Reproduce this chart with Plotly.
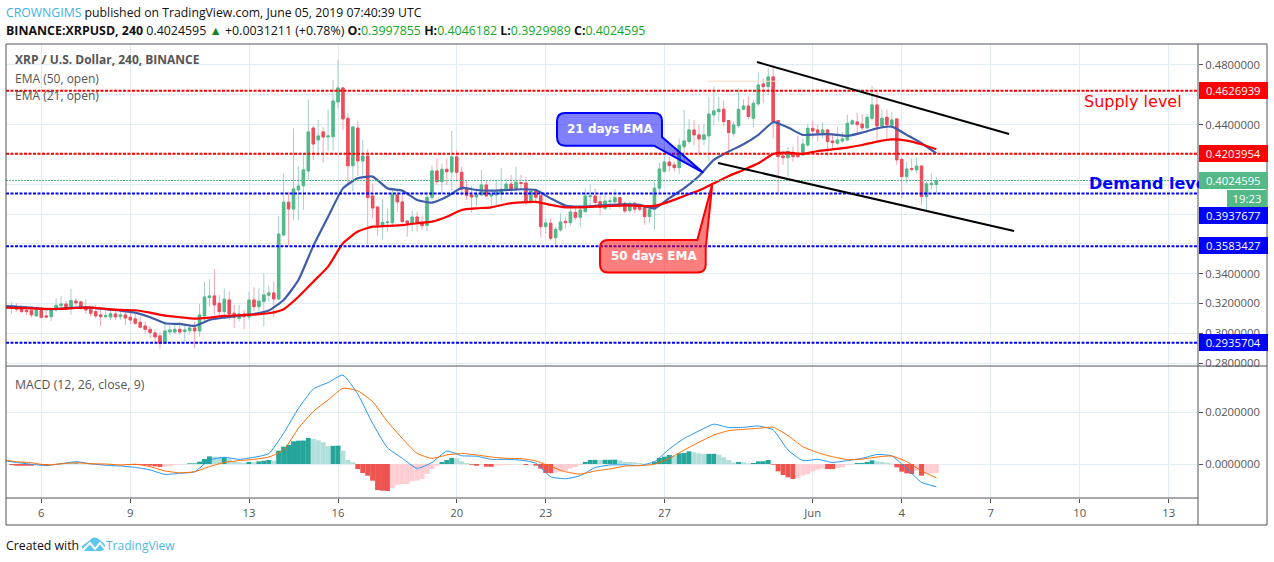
import pandas as pd
import plotly.graph_objects as go

# ---------- data ----------
opens = [.3167,.3178,.3172,.3152,.3152,.3116,.3152,.3116,.3111,.3156,
.3185,.3196,.3174,.3216,.3210,.3178,.3161,.3145,.3123,.3111,
.3109,.3129,.3111,.3123,.3107,.3096,.3073,.3049,.3026,.3002,
.2982,.2932,.3008,.3008,.3026,.3011,.3017,.3035,.3015,.3116,
.3239,.3250,.3201,.3145,.3223,.3134,.3100,.3129,.3109,.3223,
.3178,.3212,.3255,.3270,.3230,.3659,.3879,.3834,.3961,.3990,
.4089,.4377,.4297,.4351,.4317,.4319,.4552,.4646,.4442,.4124,
.4377,.4156,.4189,.3921,.3847,.3726,.3742,.3742,.3928,.3881,
.3753,.3737,.3780,.3744,.3724,.3912,.4089,.4017,.4100,.4082,
.4183,.4080,.3972,.3928,.3914,.3928,.3995,.3921,.3928,.3934,
.3961,.4001,.3966,.4010,.4008,.3883,.3955,.3923,.3715,.3738,
.3641,.3693,.3751,.3742,.3811,.3778,.3816,.3917,.3921,.3883,
.3838,.3883,.3881,.3910,.3872,.3823,.3872,.3845,.3850,.3783,
.3832,.3973,.4087,.4149,.4129,.4111,.4252,.4286,.4364,.4331,
.4301,.4324,.4465,.4487,.4503,.4427,.4342,.4393,.4503,.4525,
.4442,.4539,.4673,.4655,.4720,.4427,.4190,.4178,.4214,.4203,
.4196,.4263,.4375,.4364,.4342,.4364,.4290,.4275,.4290,.4297,
.4404,.4418,.4404,.4378,.4442,.4532,.4391,.4449,.4398,.4438,
.4167,.4051,.4105,.4096,.4122,.3917,.3997,.3998]
highs = [.3210,.3201,.3190,.3178,.3178,.3167,.3167,.3161,.3172,.3234,
.3250,.3219,.3297,.3234,.3219,.3228,.3190,.3190,.3167,.3145,
.3156,.3156,.3145,.3156,.3145,.3134,.3111,.3078,.3049,.3026,
.3004,.3078,.3055,.3055,.3071,.3055,.3055,.3078,.3196,.3346,
.3362,.3431,.3257,.3301,.3279,.3190,.3190,.3156,.3279,.3308,
.3301,.3402,.3317,.3346,.3787,.4073,.3950,.4375,.4118,.4196,
.4570,.4391,.4431,.4382,.4503,.4699,.4834,.4652,.4476,.4384,
.4429,.4297,.4236,.4006,.3847,.3898,.3838,.3961,.3961,.3928,
.3753,.3820,.3816,.3787,.3950,.4129,.4174,.4140,.4174,.4357,
.4230,.4118,.4028,.3988,.3972,.4095,.4028,.3961,.4033,.4107,
.4040,.4062,.4118,.4062,.4051,.3972,.3972,.3961,.3771,.3771,
.3715,.3805,.3782,.3838,.3838,.3861,.3972,.3995,.3972,.3939,
.3928,.3917,.3966,.3912,.3883,.3883,.3883,.3867,.3861,.3861,
.4017,.4147,.4252,.4185,.4152,.4308,.4498,.4436,.4431,.4398,
.4404,.4588,.4655,.4588,.4561,.4427,.4420,.4644,.4570,.4588,
.4565,.4749,.4711,.4778,.4800,.4427,.4223,.4252,.4252,.4324,
.4308,.4404,.4427,.4398,.4416,.4371,.4331,.4386,.4353,.4465,
.4436,.4480,.4471,.4471,.4659,.4633,.4503,.4503,.4487,.4438,
.4174,.4152,.4174,.4181,.4129,.4017,.4073,.4046]
lows = [.3129,.3145,.3134,.3123,.3105,.3111,.3098,.3100,.3082,.3145,
.3167,.3156,.3123,.3178,.3156,.3129,.3111,.3100,.3049,.3100,
.3089,.3089,.3089,.3055,.3062,.3055,.3033,.2999,.2966,.2944,
.2896,.2928,.2988,.2995,.2988,.2944,.2988,.2899,.2977,.3067,
.3178,.3123,.3100,.3111,.3089,.3033,.3078,.3026,.3089,.3145,
.3145,.3044,.3212,.3111,.3223,.3648,.3586,.3760,.3760,.3827,
.4028,.4163,.4185,.4145,.4223,.4223,.4509,.4364,.3990,.3954,
.4057,.4057,.3596,.3771,.3655,.3626,.3682,.3715,.3816,.3737,
.3648,.3682,.3682,.3693,.3686,.3894,.3995,.3939,.3995,.3961,
.4017,.3928,.3894,.3809,.3854,.3923,.3912,.3845,.3854,.3894,
.3928,.3939,.3950,.3961,.3861,.3872,.3883,.3644,.3670,.3621,
.3585,.3682,.3704,.3720,.3760,.3715,.3809,.3849,.3845,.3793,
.3827,.3827,.3872,.3838,.3805,.3805,.3805,.3816,.3727,.3738,
.3693,.3939,.4078,.4085,.4085,.4069,.4158,.4270,.4263,.4196,
.4263,.4158,.4398,.4420,.4387,.4219,.4319,.4375,.4498,.4436,
.4382,.4525,.4543,.4599,.4308,.3939,.4129,.4051,.4152,.4174,
.4185,.4252,.4308,.4286,.4308,.4185,.4230,.4263,.4279,.4293,
.4398,.4342,.4364,.4369,.4427,.4297,.4375,.4297,.4375,.4129,
.3906,.4006,.4085,.4073,.3861,.3827,.3966,.3930]
closes = [.3183,.3160,.3145,.3145,.3123,.3152,.3107,.3109,.3161,.3187,
.3196,.3172,.3219,.3203,.3172,.3156,.3134,.3116,.3111,.3118,
.3131,.3109,.3123,.3102,.3089,.3067,.3040,.3026,.3004,.2975,
.2932,.3015,.3022,.3026,.3008,.3022,.3035,.3015,.3123,.3243,
.3250,.3190,.3145,.3228,.3129,.3107,.3129,.3111,.3223,.3178,
.3216,.3257,.3270,.3230,.3666,.3879,.3834,.3968,.3988,.4096,
.4351,.4270,.4324,.4317,.4324,.4558,.4646,.4438,.4124,.4384,
.4156,.4189,.3910,.3840,.3726,.3744,.3746,.3932,.3881,.3749,
.3737,.3780,.3737,.3722,.3912,.4089,.4017,.4100,.4084,.4183,
.4080,.3966,.3925,.3914,.3932,.3995,.3921,.3932,.3948,.3966,
.4001,.3961,.4013,.4006,.3883,.3955,.3912,.3715,.3740,.3637,
.3697,.3746,.3742,.3814,.3778,.3827,.3921,.3921,.3878,.3845,
.3887,.3887,.3910,.3865,.3820,.3872,.3832,.3832,.3783,.3832,
.3973,.4102,.4149,.4125,.4111,.4261,.4290,.4364,.4331,.4304,
.4331,.4471,.4492,.4503,.4420,.4346,.4398,.4503,.4525,.4454,
.4543,.4666,.4655,.4720,.4420,.4185,.4178,.4219,.4185,.4185,
.4270,.4375,.4357,.4346,.4364,.4286,.4279,.4297,.4304,.4409,
.4425,.4400,.4378,.4449,.4532,.4391,.4442,.4398,.4431,.4163,
.4051,.4102,.4100,.4122,.3917,.4002,.4006,.4025]

# EMA and MACD lines sampled every 12 hours from 2019-05-04 16:00
ema21 = [.3183,.3178,.3172,.3161,.3165,.3172,.3172,.3161,.3152,.3138,
.3107,.3067,.3062,.3049,.3089,.3105,.3118,.3129,.3152,.3223,.3357,.3586,.3782,
.3972,.4040,.4051,.3972,.3957,.3894,.3876,.3916,.3975,.3961,.3957,.3961,.3966,.3961,.3905,.3856,.3849,.3854,.3861,.3865,.3861,.3838,
.3906,.3973,.4055,.4163,.4219,.4268,.4331,.4416,.4380,.4331,.4335,.4335,.4324,.4346,.4375,.4386,.4331,.4275,.4207]
ema50 = [.3172,.3169,.3167,.3163,.3163,.3169,.3172,.3163,.3156,.3154,
.3138,.3118,.3107,.3098,.3105,.3116,.3120,.3125,.3134,.3161,.3245,.3346,.3447,
.3603,.3682,.3715,.3720,.3726,.3738,.3749,.3782,.3827,.3838,.3845,.3867,.3878,.3881,.3861,.3845,.3845,.3849,.3854,.3858,.3854,.3854,
.3883,.3921,.3957,.4006,.4055,.4096,.4140,.4203,.4212,.4203,.4223,.4234,.4246,.4263,.4286,.4301,.4293,.4268,.4234]
# MACD values in units of 0.0001
macd_line = [14,6,-1,-6,1,9,1,-5,-8,-13,-23,-40,-36,-30,15,26,18,26,40,119,215,290,315,344,270,157,63,22,-17,6,50,32,30,
18,18,15,3,-49,-57,-45,-14,-4,-3,-6,9,58,99,128,154,141,142,147,132,54,13,18,6,13,22,37,31,-17,-71,-88]
signal_line = [17,9,5,-4,1,5,1,0,-4,-1,-10,-27,-34,-30,-10,6,13,18,27,54,138,203,248,293,283,241,164,99,41,22,35,41,35,
27,22,21,12,-10,-30,-39,-27,-19,-8,-6,-1,22,54,84,112,129,134,138,142,110,67,44,28,17,19,27,31,9,-27,-53]
macd_hist = [-3.9,-6.5,-6.5,-6.5,-6.5,-2.6,-2.6,-6.5,-1.3,-1.3,
0.6,1.3,1.9,2.6,1.3,0.6,-0.6,-1.3,-1.3,-0.6,
-0.6,-0.6,-1.3,-1.3,-1.9,-3.9,-3.9,-4.5,-6.5,-9.0,
-11.6,-10.3,-7.7,-3.9,-1.9,-0.6,2.6,2.6,9.0,19.4,
29.7,28.4,24.5,25.8,20.6,10.3,6.5,5.2,7.7,6.5,
10.3,12.9,15.5,12.9,51.6,67.1,73.5,87.7,90.3,90.9,
100.6,96.8,91.6,83.9,69.7,70.3,71.0,51.6,15.5,6.5,
-19.4,-34.8,-45.2,-64.5,-100.6,-103.2,-104.5,-92.9,-80.0,-78.0,
-77.4,-67.1,-64.5,-58.1,-38.7,-19.4,-6.5,7.7,15.5,23.2,
21.9,10.3,3.9,-2.6,-6.5,-1.3,-10.3,-11.0,-6.5,-5.2,
-3.9,-2.6,-0.6,-0.4,-3.9,-1.3,-6.5,-18.1,-34.8,-35.5,
-33.5,-29.7,-25.8,-18.1,-11.6,-3.9,7.7,15.5,16.1,15.5,
16.1,16.4,16.8,14.2,7.7,7.6,6.5,3.9,1.3,0.6,
9.0,23.2,28.4,34.8,31.0,41.3,42.6,49.0,45.2,41.3,
38.7,39.1,39.5,36.1,25.8,15.5,5.2,7.7,6.5,2.6,
3.9,10.3,10.7,15.5,-2.6,-28.4,-42.6,-51.6,-58.1,-54.2,
-45.2,-38.7,-28.4,-21.9,-18.1,-19.4,-19.7,-15.5,-12.9,-3.9,
-1.3,3.9,4.1,7.7,14.2,10.3,7.7,5.2,1.9,-12.9,
-29.7,-36.1,-38.7,-25.8,-45.2,-36.1,-35.5,-34.8]

tick_dates = ["2019-05-06","2019-05-09","2019-05-13","2019-05-16","2019-05-20","2019-05-23",
              "2019-05-27","2019-06-01","2019-06-04","2019-06-07","2019-06-10","2019-06-13"]
tick_labels = ["6","9","13","16","20","23","27","Jun","4","7","10","13"]
price_ticks = [.28,.30,.32,.34,.36,.38,.40,.42,.44,.46,.48]
price_tick_labels = ["0.2800000","0.3000000","0.3200000","0.3400000","","","","","0.4400000","","0.4800000"]
macd_ticks = [0.0,0.02]
macd_tick_labels = ["0.0000000","0.0200000"]
supply_levels = [0.4626939, 0.4203954]
demand_levels = [0.3937677, 0.3583427, 0.2935704]
last_price = 0.4024595
upper_trend = (("2019-05-30 02:53", 0.4820), ("2019-06-07 14:50", 0.4337))
lower_trend = (("2019-05-28 19:26", 0.4142), ("2019-06-07 18:50", 0.3686))
pale_level = (("2019-05-28 11:30", 0.4691), ("2019-05-30 20:10", 0.4691))

assert len(opens) == len(highs) == len(lows) == len(closes) == len(macd_hist) == 188
assert len(ema21) == len(ema50) == len(macd_line) == len(signal_line) == 64

dates = pd.date_range("2019-05-05 00:00", periods=188, freq="4h")
line_dates = pd.date_range("2019-05-04 16:00", periods=64, freq="12h")
X_RANGE = ["2019-05-04 19:26", "2019-06-13 23:39"]
W, H = 1274, 562
FONT = "Open Sans"
GRID = "#e1ecf2"
AXIS = "#50535e"
TEXT = "#555555"

px = lambda x: x / W
py = lambda y: 1 - y / H

def path(cmds):
    out = []
    for c in cmds:
        if c == "Z":
            out.append("Z")
        else:
            op, *nums = c
            pts = [f"{px(nums[i]):.5f},{py(nums[i+1]):.5f}" for i in range(0, len(nums), 2)]
            out.append(op + " " + " ".join(pts))
    return " ".join(out)

fig = go.Figure()
body_top = [max(o, c) for o, c in zip(opens, closes)]
body_bot = [min(o, c) for o, c in zip(opens, closes)]
fig.add_trace(go.Candlestick(x=dates, open=opens, high=highs, low=lows, close=closes, xaxis="x", yaxis="y",
    increasing=dict(line=dict(color="#a3d0cc", width=1), fillcolor="rgba(0,0,0,0)"),
    decreasing=dict(line=dict(color="#f5a6b2", width=1), fillcolor="rgba(0,0,0,0)"),
    whiskerwidth=0, hoverinfo="skip", showlegend=False))
fig.add_trace(go.Candlestick(x=dates, open=opens, high=body_top, low=body_bot, close=closes, xaxis="x", yaxis="y",
    increasing=dict(line=dict(color="#53b987", width=1), fillcolor="#53b987"),
    decreasing=dict(line=dict(color="#eb4d5c", width=1), fillcolor="#eb4d5c"),
    whiskerwidth=0, hoverinfo="skip", showlegend=False))
fig.add_trace(go.Scatter(x=line_dates, y=ema21, mode="lines", line=dict(color="#3f5ca8", width=2.2, shape="spline", smoothing=0.5),
                         xaxis="x", yaxis="y", hoverinfo="skip", showlegend=False))
fig.add_trace(go.Scatter(x=line_dates, y=ema50, mode="lines", line=dict(color="#ff0000", width=2.2, shape="spline", smoothing=0.5),
                         xaxis="x", yaxis="y", hoverinfo="skip", showlegend=False))

hist = [v / 1e4 for v in macd_hist]
hist_colors = []
for i, v in enumerate(hist):
    prev = hist[i - 1] if i else 0
    if v >= 0:
        hist_colors.append("#26a69a" if v >= prev else "#b2dfdb")
    else:
        hist_colors.append("#ef5350" if v <= prev else "#ffcdd2")
fig.add_trace(go.Bar(x=dates, y=hist, marker=dict(color=hist_colors, line=dict(width=0)), width=4 * 3600 * 1000,
                     xaxis="x2", yaxis="y2", hoverinfo="skip", showlegend=False))
fig.add_trace(go.Scatter(x=line_dates, y=[v / 1e4 for v in macd_line], mode="lines", line=dict(color="#2196f3", width=1, shape="spline", smoothing=0.5),
                         xaxis="x2", yaxis="y2", hoverinfo="skip", showlegend=False))
fig.add_trace(go.Scatter(x=line_dates, y=[v / 1e4 for v in signal_line], mode="lines", line=dict(color="#ff6d00", width=1, shape="spline", smoothing=0.5),
                         xaxis="x2", yaxis="y2", hoverinfo="skip", showlegend=False))

shapes = []
for lv in supply_levels:
    shapes.append(dict(type="line", xref="x domain", yref="y", x0=0, x1=1, y0=lv, y1=lv,
                       line=dict(color="#ff0000", width=2, dash="3px,1.5px")))
for lv in demand_levels:
    shapes.append(dict(type="line", xref="x domain", yref="y", x0=0, x1=1, y0=lv, y1=lv,
                       line=dict(color="#0000ff", width=2, dash="3px,1.5px")))
shapes.append(dict(type="line", xref="x domain", yref="y", x0=0, x1=1, y0=last_price, y1=last_price,
                   line=dict(color="#53b987", width=1, dash="2px,1px")))
for (p0, p1), col, wd in [(pale_level, "#f6dcc4", 1), (upper_trend, "#000000", 2), (lower_trend, "#000000", 2)]:
    shapes.append(dict(type="line", xref="x", yref="y", x0=p0[0], y0=p0[1], x1=p1[0], y1=p1[1],
                       line=dict(color=col, width=wd)))

# callouts
shapes.append(dict(type="path", xref="paper", yref="paper", fillcolor="rgba(0,0,255,0.5)",
    line=dict(color="#0000ff", width=2),
    path=path([("M",565,113),("L",654,113),("Q",662,113,662,121),("L",662,137),("L",703.3,172.7),
               ("L",654,145.7),("L",565,145.7),("Q",557,145.7,557,137),("L",557,121),("Q",557,113,565,113),"Z"])))
shapes.append(dict(type="path", xref="paper", yref="paper", fillcolor="rgba(255,0,0,0.5)",
    line=dict(color="#ff0000", width=2),
    path=path([("M",608,240),("L",697.3,240),("L",712.3,184),("L",705.7,248.3),("L",705.7,264.5),("Q",705.7,272.5,697.5,272.5),
               ("L",608,272.5),("Q",600,272.5,600,264.5),("L",600,248),("Q",600,240,608,240),"Z"])))

# panel frame
for x0, y0, x1, y1 in [(6,44,1267,44),(6,525,1267,525),(6,44,6,525),(1267,44,1267,525),(1198,44,1198,525),
                       (6,366,1267,366),(6,498,1198,498)]:
    shapes.append(dict(type="line", xref="paper", yref="paper", x0=px(x0), x1=px(x1), y0=py(y0), y1=py(y1),
                       line=dict(color=AXIS, width=1)))

# logo
shapes.append(dict(type="path", xref="paper", yref="paper", fillcolor="#5cc6ec", line=dict(width=0),
    path=path([("M",82,546),("L",90,540),("Q",93,536.5,97,538),("L",101,541),("Q",106,544,105,548),
               ("Q",104,551,100,551),("L",86,551),("Q",82,551,82,546),"Z"])))
shapes.append(dict(type="path", xref="paper", yref="paper", line=dict(color="#ffffff", width=2),
    path=path([("M",83,550),("L",90,543),("L",95,549),("L",100,543),("L",105,549)])))

def ann(x, y, text, size=12, color=TEXT, font=FONT, xa="left", **kw):
    return dict(xref="paper", yref="paper", x=px(x - 2 if xa == "left" else x), y=py(y), text=text, showarrow=False, xanchor=xa, yanchor="middle",
                font=dict(family=font, size=size, color=color), align="left", **kw)

def badge(x0, x1, y0, y1, text, bg):
    return dict(xref="paper", yref="paper", x=px(x0), y=py((y0 + y1) / 2), text=text, showarrow=False, xanchor="left", yanchor="middle",
                width=x1 - x0, height=y1 - y0, bgcolor=bg, borderpad=0, borderwidth=0,
                font=dict(family=FONT, size=11.3, color="#ffffff"), align="center")

G = "#11a71f"
annotations = [
    ann(6, 13, "<span style='color:#3bb3e4'>CROWNGIMS</span> published on TradingView.com, June 05, 2019 07:40:39 UTC", size=12.25, color="#111111"),
    ann(6, 30, "<b>BINANCE:XRPUSD, 240</b> 0.4024595 <span style='color:#11842a'>▲</span> +0.0031211 (+0.78%) "
               f"<b>O:</b><span style='color:{G}'>0.3997855</span> <b>H:</b><span style='color:{G}'>0.4046182</span> "
               f"<b>L:</b><span style='color:{G}'>0.3929989</span> <b>C:</b><span style='color:{G}'>0.4024595</span>", size=12.4, color="#111111"),
    ann(15, 60, "<b>XRP / U.S. Dollar, 240, BINANCE</b>"),
    ann(15, 78, "EMA (50, open)"),
    ann(15, 95, "EMA (21, open)"),
    ann(15, 384, "MACD (12, 26, close, 9)", size=12.3),
    ann(609.5, 128.7, "<b>21 days EMA</b>", size=12, color="#ffffff", font="DejaVu Sans", xa="center"),
    ann(654, 255.7, "<b>50 days EMA</b>", size=12, color="#ffffff", font="DejaVu Sans", xa="center"),
    ann(1084, 101, "Supply level", size=16, color="#ff0000", font="DejaVu Sans"),
    ann(1089, 183, "<b>Demand level</b>", size=16, color="#0000ff", font="DejaVu Sans"),
    badge(1198.5, 1267, 82, 98.7, "0.4626939", "#ff0000"),
    badge(1198.5, 1267, 145.3, 162, "0.4203954", "#ff0000"),
    badge(1198.5, 1267, 172, 188.7, "0.4024595", "#53b987"),
    badge(1227, 1267, 190, 206.7, "19:23", "#53b987"),
    badge(1198.5, 1267, 207.3, 224, "0.3937677", "#0000ff"),
    badge(1198.5, 1267, 237, 253.7, "0.3583427", "#0000ff"),
    badge(1198.5, 1267, 334.3, 351, "0.2935704", "#0000ff"),
    ann(6, 545, "Created with", size=12.3, color="#111111"),
    ann(106, 545, "TradingView", size=12, color="#4db8e8"),
]

xbase = dict(type="date", range=X_RANGE, domain=[px(6), px(1198)], tickvals=tick_dates, ticktext=tick_labels,
             showgrid=True, gridcolor=GRID, gridwidth=1, zeroline=False, showline=False)
ybase = dict(side="right", showgrid=True, gridcolor=GRID, gridwidth=1, zeroline=False, showline=False,
             ticks="outside", ticklen=4, tickcolor=AXIS, tickfont=dict(family=FONT, size=11.3, color=TEXT))

fig.update_layout(
    width=W, height=566, autosize=False, margin=dict(l=0, r=0, t=0, b=0),
    paper_bgcolor="#ffffff", plot_bgcolor="#ffffff", showlegend=False, dragmode=False, barmode="overlay",
    xaxis=dict(xbase, anchor="y", showticklabels=False, ticks="", rangeslider=dict(visible=False)),
    xaxis2=dict(xbase, anchor="y2", ticks="outside", ticklen=4, tickcolor=AXIS, tickfont=dict(family=FONT, size=11.3, color=TEXT)),
    yaxis=dict(ybase, anchor="x", domain=[py(366), py(44)], range=[0.27799, 0.49409], tickvals=price_ticks, ticktext=price_tick_labels),
    yaxis2=dict(ybase, anchor="x2", domain=[py(498), py(366)], range=[-0.01315, 0.03791], tickvals=macd_ticks, ticktext=macd_tick_labels),
    shapes=shapes, annotations=annotations,
)
fig.write_html("out.html", include_plotlyjs=True, config={"displayModeBar": False, "staticPlot": True},
               post_script="document.body.style.margin='0';document.body.style.overflow='hidden';")
